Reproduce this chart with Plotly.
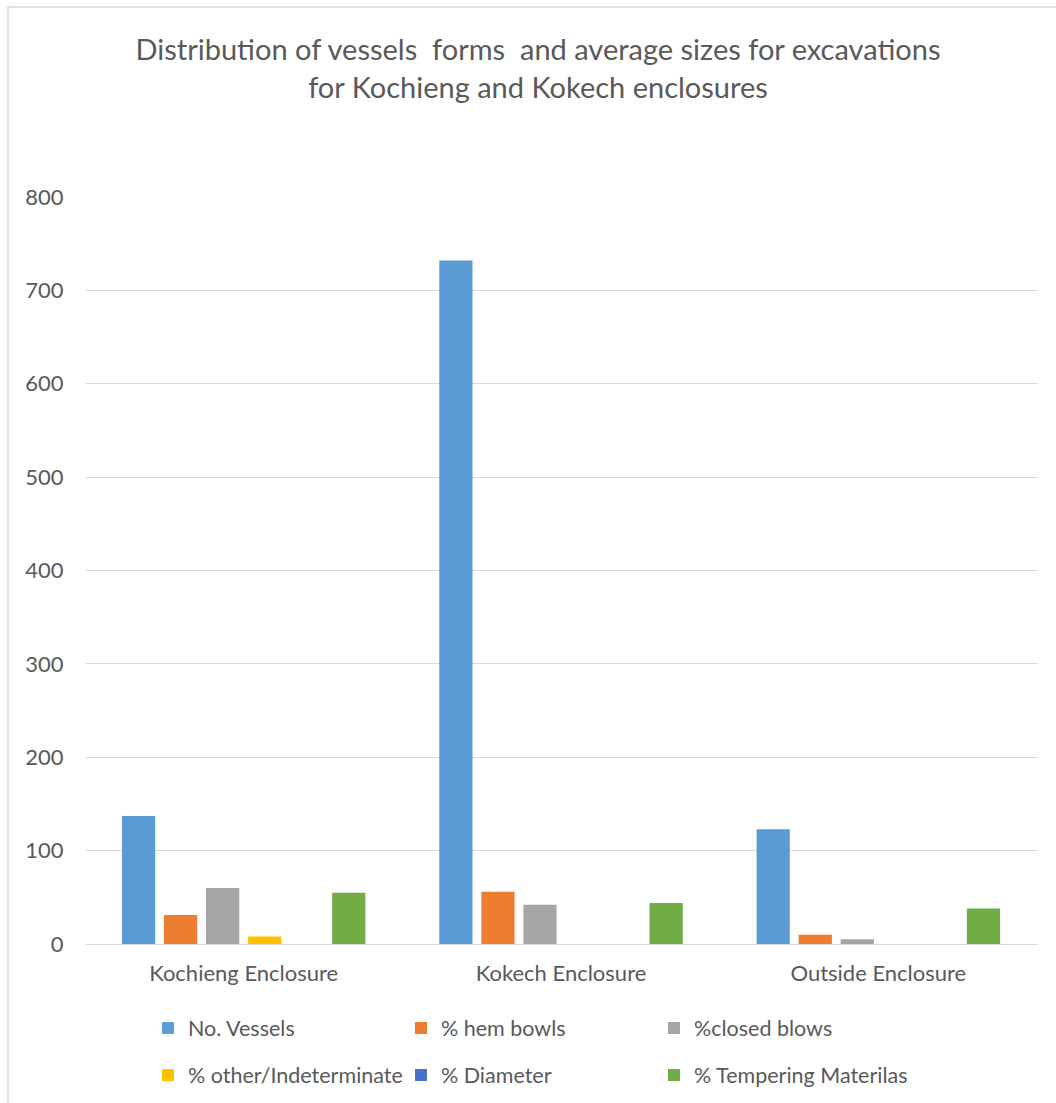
import plotly.graph_objects as go

# Excavation areas
categories = ["Kochieng Enclosure", "Kokech Enclosure", "Outside Enclosure"]

# Series values per excavation area
no_vessels = [137, 732, 123]
hem_bowls = [31, 56, 10]
closed_blows = [60, 42, 5]
other_indeterminate = [8, None, None]
diameter = [None, None, None]
tempering_materials = [55, 44, 38]

y_ticks = [0, 100, 200, 300, 400, 500, 600, 700, 800]

series = [
    ("No. Vessels", no_vessels, "#5B9BD5", "legend"),
    ("% hem bowls", hem_bowls, "#ED7D31", "legend"),
    ("%closed blows", closed_blows, "#A5A5A5", "legend"),
    ("% other/Indeterminate", other_indeterminate, "#FFC000", "legend2"),
    ("% Diameter", diameter, "#4472C4", "legend2"),
    ("% Tempering Materilas", tempering_materials, "#70AD47", "legend2"),
]

FONT = "Lato, 'Open Sans', sans-serif"
TXT = "#595959"

fig = go.Figure()
for name, vals, color, leg in series:
    fig.add_trace(go.Bar(
        x=categories, y=vals, name=name,
        marker=dict(color=color, line=dict(width=0)),
        legend=leg,
    ))

W, H = 1056, 1103
L, R, T, B = 85, 19, 197, 159
pw, ph = W - L - R, H - T - B

def px_x(px):
    return (px - L) / pw

def px_y(py):
    return (H - B - py) / ph

legend_common = dict(
    orientation="h", xref="container", yref="container",
    xanchor="left", yanchor="middle",
    font=dict(family=FONT, size=21.5, color=TXT),
    entrywidth=208, entrywidthmode="pixels",
    bgcolor="rgba(0,0,0,0)", traceorder="normal",
)

fig.update_layout(
    width=W, height=H,
    margin=dict(l=L, r=R, t=T, b=B),
    paper_bgcolor="white", plot_bgcolor="white",
    barmode="group", bargap=0.205, bargroupgap=0.21,
    font=dict(family=FONT, size=22, color=TXT),
    title=dict(
        text="Distribution of vessels  forms  and average sizes for excavations<br>for Kochieng and Kokech enclosures",
        x=538 / W, xanchor="center", y=1 - 60 / H, yanchor="middle",
        font=dict(family=FONT, size=29, color=TXT),
    ),
    legend=dict(x=148 / W, y=1 - 1028 / H, **legend_common),
    legend2=dict(x=148 / W, y=1 - 1075 / H, **legend_common),
    xaxis=dict(
        showgrid=False, showline=True, linecolor="#D9D9D9", linewidth=1,
        ticks="outside", ticklen=10, tickcolor="rgba(0,0,0,0)",
        tickfont=dict(family=FONT, size=22, color=TXT),
    ),
    yaxis=dict(
        range=[0, 800], tickvals=y_ticks,
        showgrid=True, gridcolor="#D9D9D9", gridwidth=1,
        zeroline=True, zerolinecolor="#D9D9D9", zerolinewidth=1,
        showline=False,
        ticks="outside", ticklen=16, tickcolor="rgba(0,0,0,0)",
        tickfont=dict(family=FONT, size=22, color=TXT),
    ),
    shapes=[dict(
        type="rect", xref="paper", yref="paper",
        x0=px_x(8), x1=px_x(1070), y0=px_y(1120), y1=px_y(7),
        line=dict(color="#D9D9D9", width=1.5), fillcolor="rgba(0,0,0,0)",
        layer="below",
    )],
)

fig.write_html("out.html")
